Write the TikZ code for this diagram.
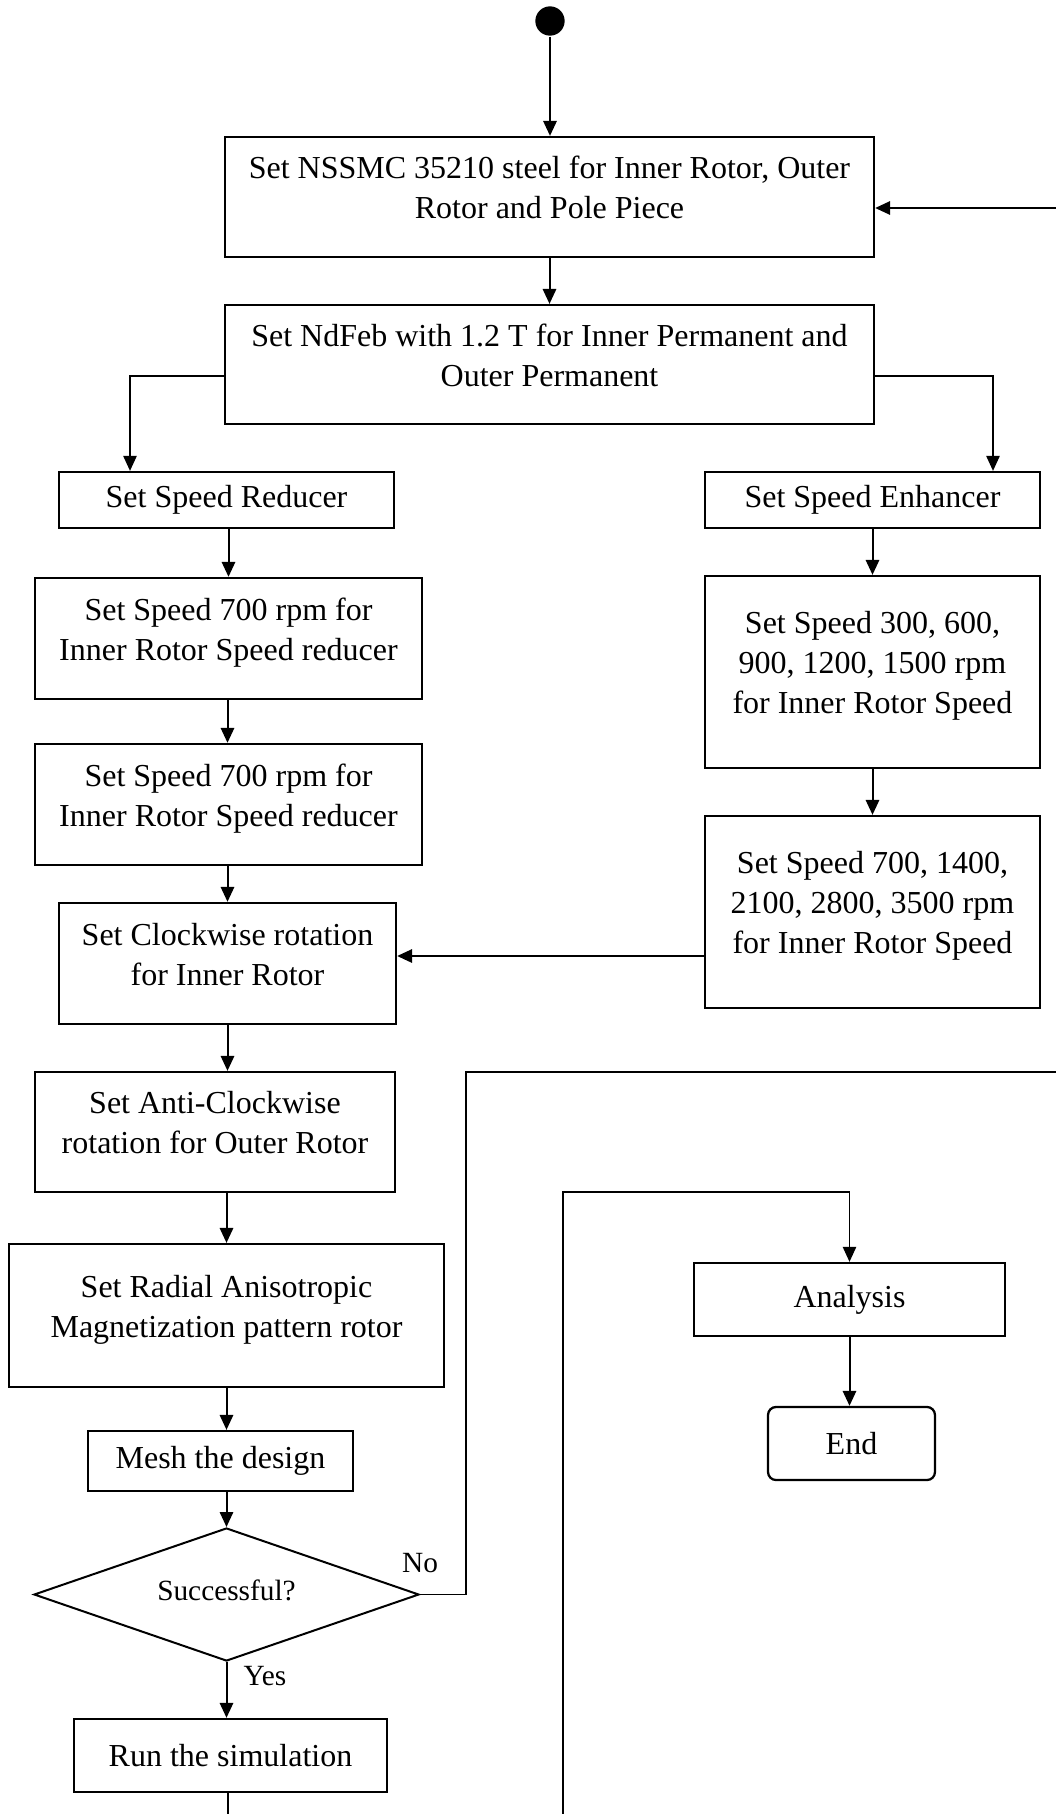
\documentclass[tikz,border=0pt]{standalone}
\usepackage{amsmath, amssymb}
\usepackage{fontspec}
\setmainfont{Liberation Serif}
\usetikzlibrary{arrows.meta,shapes.geometric}
\tikzset{every picture/.style={line width=0.75pt}}

\begin{document}
\begin{tikzpicture}[x=0.375pt,y=0.375pt,yscale=-1,xscale=1,
  box/.style={draw, line width=0.85pt, rectangle, align=center, inner sep=0pt, font=\fontsize{12}{15}\selectfont},
  tall/.style={execute at end node={\rule[-7pt]{0pt}{0pt}}},
  lbl/.style={inner sep=0pt, font=\fontsize{11}{13}\selectfont},
  arr/.style={-{Triangle[length=5.6pt,width=5pt]}},
  thin/.style={line width=0.5pt}]
\useasboundingbox (0,0) rectangle (1056,1814);

%Shape: Circle
\node [circle, fill=black, inner sep=0pt, minimum size=11pt] (start) at (550,21) {};

%Shape: Rectangle
\node [box, tall, minimum width=243.4pt, minimum height=45pt] (steel) at (549.5,197) {Set NSSMC 35210 steel for Inner Rotor, Outer\\Rotor and Pole Piece};
%Shape: Rectangle
\node [box, tall, minimum width=243.4pt, minimum height=44.6pt] (ndfeb) at (549.5,364.5) {Set NdFeb with 1.2 T for Inner Permanent and\\Outer Permanent};

%Shape: Rectangle
\node [box, minimum width=125.6pt, minimum height=21pt] (reducer) at (226.5,500) {Set Speed Reducer};
%Shape: Rectangle
\node [box, minimum width=125.6pt, minimum height=21pt] (enhancer) at (872.5,500) {Set Speed Enhancer};

%Shape: Rectangle
\node [box, tall, minimum width=145.1pt, minimum height=45.4pt] (redA) at (228.5,638.5) {Set Speed 700 rpm for\\Inner Rotor Speed reducer};
%Shape: Rectangle
\node [box, tall, minimum width=145.1pt, minimum height=45.4pt] (redB) at (228.5,804.5) {Set Speed 700 rpm for\\Inner Rotor Speed reducer};
%Shape: Rectangle
\node [box, tall, minimum width=125.6pt, minimum height=72pt] (enhA) at (872.5,672) {Set Speed 300, 600,\\900, 1200, 1500 rpm\\for Inner Rotor Speed};
%Shape: Rectangle
\node [box, tall, minimum width=125.6pt, minimum height=72pt] (enhB) at (872.5,912) {Set Speed 700, 1400,\\2100, 2800, 3500 rpm\\for Inner Rotor Speed};

%Shape: Rectangle
\node [box, tall, minimum width=126.4pt, minimum height=45.4pt] (cw) at (227.5,963.5) {Set Clockwise rotation\\for Inner Rotor};
%Shape: Rectangle
\node [box, tall, minimum width=135pt, minimum height=45pt] (acw) at (215,1132) {Set Anti-Clockwise\\rotation for Outer Rotor};
%Shape: Rectangle
\node [box, tall, minimum width=163.1pt, minimum height=53.6pt] (radial) at (226.5,1315.5) {Set Radial Anisotropic\\Magnetization pattern rotor};
%Shape: Rectangle
\node [box, minimum width=99.4pt, minimum height=22.5pt] (mesh) at (220.5,1461) {Mesh the design};

%Shape: Diamond
\node [draw, diamond, aspect=2.9, inner sep=0pt, minimum width=144.4pt, minimum height=49.9pt, font=\fontsize{11}{13}\selectfont, execute at end node={\rule[-3pt]{0pt}{0pt}}] (succ) at (226.5,1594.5) {Successful?};

%Shape: Rectangle
\node [box, minimum width=117.4pt, minimum height=27.4pt] (run) at (230.5,1755.5) {Run the simulation};

%Shape: Rectangle
\node [box, minimum width=116.6pt, minimum height=27.4pt] (analysis) at (849.5,1299.5) {Analysis};
%Shape: Rounded Rect
\node [box, rounded corners=3pt, minimum width=62.6pt, minimum height=27.4pt] (finish) at (851.5,1443.5) {End};

% Text Node
\node [lbl] (nolbl) at (420,1563) {No};
% Text Node
\node [lbl] (yeslbl) at (265,1676) {Yes};

% free ends of the lines that leave the picture
\coordinate (backin) at (1056,208);
\coordinate (splitL) at (130,376);
\coordinate (splitR) at (993,376);
\coordinate (cwin) at (396,956);
\coordinate (noup) at (466,1072);
\coordinate (noout) at (1056,1072);
\coordinate (anbot) at (563,1814);
\coordinate (antop) at (563,1192);
\coordinate (rundown) at (228,1814);

%Straight Lines
\draw [arr] (start) -- (start |- steel.north);
\draw [arr] (backin) -- (backin -| steel.east);
\draw [arr] (steel) -- (ndfeb);

%Straight Lines
\draw [thin, arr] (splitL -| ndfeb.west) -- (splitL) -- (splitL |- reducer.north);
\draw [thin, arr] (splitR -| ndfeb.east) -- (splitR) -- (splitR |- enhancer.north);

%Straight Lines
\draw [arr] (reducer.south -| redA.north) -- (redA.north);
\draw [arr] (redA.south -| cw.north) -- (cw.north |- redB.north);
\draw [arr] (redB.south -| cw.north) -- (cw.north);
\draw [arr] (cw.south) -- (cw.south |- acw.north);
\draw [arr] (acw.south -| radial.north) -- (radial.north);
\draw [arr] (radial.south) -- (radial.south |- mesh.north);
\draw [arr] (mesh.south -| succ.north) -- (succ.north);
\draw [arr] (succ.south) -- (succ.south |- run.north);
\draw [thin] (run.south -| rundown) -- (rundown);

%Straight Lines
\draw [arr] (enhancer.south) -- (enhancer.south |- enhA.north);
\draw [arr] (enhA) -- (enhB);
\draw [arr] (cwin -| enhB.west) -- (cwin -| cw.east);

%Straight Lines
\draw [thin] (succ.east) -- (succ.east -| noup) -- (noup) -- (noout);
\draw [thin, arr] (anbot) -- (antop) -- (antop -| analysis.north) -- (analysis.north);
\draw [arr] (analysis.south) -- (analysis.south |- finish.north);
\end{tikzpicture}
\end{document}
